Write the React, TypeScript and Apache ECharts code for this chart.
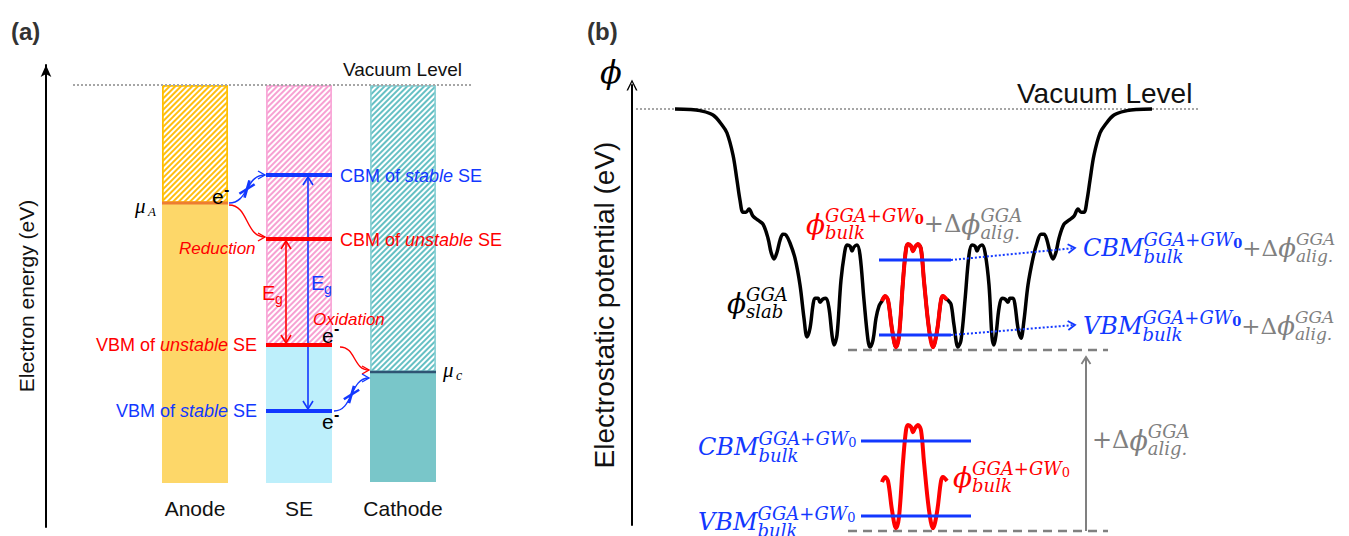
import React, { useEffect, useRef } from 'react';
import * as echarts from 'echarts';

// ---------------- Panel (a): energy-level diagram (eV, vacuum = 0) ----------------
const electrodes = ['Anode', 'SE', 'Cathode'];
const splitLevel = [-2.36, -5.2, -5.74]; // top of the filled (occupied) part of each column
const bandBottom = [-7.96, -7.96, -7.94];
const vacuumLevel = 0;

const levelNames = ['CBM of stable SE', 'CBM of unstable SE', 'VBM of unstable SE', 'VBM of stable SE', 'μA', 'μc'];
const levelColumn = [1, 1, 1, 1, 0, 2];
const levelEnergy = [-1.8, -3.08, -5.2, -6.52, -2.36, -5.74];

const gapNames = ['Eg unstable', 'Eg stable'];
const gapColumn = [1, 1];
const gapTop = [-3.08, -1.8];
const gapBottom = [-5.2, -6.52];

const transferNames = ['Reduction', 'blocked reduction', 'Oxidation', 'blocked oxidation'];
const transferFrom = [[0, -2.36], [0, -2.36], [1, -5.2], [1, -6.52]];
const transferTo = [[1, -3.08], [1, -1.8], [2, -5.74], [2, -5.74]];
const transferBlocked = [false, true, false, true];

// ---------------- Panel (b): electrostatic potential (position Å, potential eV) ----------------
const slabX = [4.3, 5.8, 6.8, 8.1, 9.0, 9.5, 10.1, 10.5, 10.8, 11.1, 11.4, 11.7, 12.1, 12.6, 13.1, 13.6, 13.9, 14.2, 14.5, 14.8,
  15.1, 15.4, 15.8, 16.3, 16.8, 17.2, 17.5, 17.8, 18.1, 18.3, 18.6, 18.8, 19.1, 19.4, 19.7, 20.0, 20.2, 20.5, 20.9, 21.3,
  21.5, 21.8, 22.0, 22.2, 22.5, 22.8, 23.2, 23.6, 23.8, 24.1, 24.4, 24.7, 25.0, 25.3, 25.6, 26.0, 26.4, 26.7, 27.1, 27.4,
  27.6, 27.9, 28.1, 28.3, 28.6, 28.9, 29.2, 29.7, 30.1, 30.5, 30.9, 31.1, 31.4, 31.6, 31.9, 32.2, 32.6, 32.9, 33.3, 33.7,
  34.0, 34.3, 34.5, 34.7, 35.0, 35.3, 35.7, 36.0, 36.2, 36.4, 36.7, 37.0, 37.3, 37.6, 37.8, 38.1, 38.3, 38.6, 38.9, 39.2,
  39.6, 40.1, 40.5, 40.9, 41.2, 41.5, 41.8, 42.1, 42.4, 42.7, 43.2, 43.7, 44.2, 44.6, 44.9, 45.2, 45.5, 45.8, 46.2, 46.8,
  47.3, 48.2, 49.5, 50.5, 52.0];
const slabV = [0, -0.01, -0.04, -0.15, -0.4, -0.6, -1.15, -1.78, -2.28, -2.58, -2.58, -2.5, -2.68, -2.78, -2.88, -3.23, -3.58, -3.75, -3.58, -3.28,
  -3.13, -3.15, -3.35, -3.73, -4.4, -5.23, -5.7, -5.48, -4.9, -4.73, -4.73, -4.83, -4.75, -4.73, -4.98, -5.65, -5.9, -5.65, -4.28, -3.53,
  -3.4, -3.43, -3.55, -3.45, -3.4, -3.65, -4.78, -5.78, -5.95, -5.78, -5.23, -4.93, -4.8, -4.68, -4.78, -5.5, -5.95, -5.68, -4.3, -3.5,
  -3.38, -3.43, -3.55, -3.45, -3.38, -3.5, -4.3, -5.5, -5.95, -5.55, -4.78, -4.68, -4.75, -4.78, -4.88, -5.4, -5.95, -5.78, -4.78, -3.65,
  -3.4, -3.43, -3.55, -3.45, -3.4, -3.58, -4.4, -5.7, -5.9, -5.65, -4.98, -4.73, -4.75, -4.83, -4.73, -4.73, -4.9, -5.48, -5.73, -5.28,
  -4.4, -3.73, -3.35, -3.13, -3.13, -3.28, -3.58, -3.75, -3.58, -3.23, -2.88, -2.78, -2.68, -2.5, -2.58, -2.58, -2.28, -1.78, -1.15, -0.6,
  -0.4, -0.15, -0.04, -0.01, 0];

const bulkX = [25.0, 25.3, 25.6, 26.0, 26.4, 26.7, 27.1, 27.4, 27.6, 27.9, 28.1, 28.3, 28.6, 28.9, 29.2, 29.7, 30.1, 30.5, 30.9, 31.1, 31.5];
const bulkV = [-9.33, -9.2, -9.3, -10.03, -10.48, -10.2, -8.83, -8.03, -7.9, -7.95, -8.08, -7.98, -7.9, -8.03, -8.83, -10.03, -10.48, -10.08, -9.3, -9.2, -9.3];

const alignShift = 4.525; // Δϕ_alig^GGA
const bulkCBM = -8.3;
const bulkVBM = -10.175;
const bulkRef = -10.55;
const bulkLevelSpan = [22.9, 33.9];
const alignedLevelSpan = [24.7, 31.9];
const refSpan = [21.6, 47.6];
const vacuumSpanB = [0.4, 56.6];
const shiftArrowX = 45.4;
const shiftArrowTop = -6.2;
const projTipX = 44.3;
const projTipV = [-3.475, -5.4];

// ---------------- styles ----------------
const FONT = "'Liberation Sans', Arial, sans-serif";
const MATH = "'DejaVu Serif', serif";
const TIMES = "'Liberation Serif', serif";
const RED = '#FF0000';
const BLUE = '#1238FF';
const GRAY = '#808080';
const BAR_W = 66;
const HATCH = ['#FFBE10', '#F7A0D2', '#66C0C4'];
const HATCH_BORDER = ['#FFC000', '#F9A8D8', '#8ED2D5'];
const SOLID = ['#FDD769', '#BDEFFB', '#79C6C9'];
const LEVEL_COLOR = [BLUE, RED, RED, BLUE, '#ED7D31', '#2F5473'];
const LEVEL_WIDTH = [4, 4, 4, 4, 3, 2.5];
const GAP_COLOR = [RED, BLUE];
const GAP_DX = [-13, 9];
const TRANSFER_COLOR = [RED, BLUE, RED, BLUE];
const TRANSFER_OFF = [
  { sx: 1, sy: 2, ey: -2 },
  { sx: 1, sy: 0, ey: 0 },
  { sx: 8, sy: 2, ey: -2 },
  { sx: 2, sy: 0, ey: 6 },
];
const TEXT_Z = 100;

let measureCtx: CanvasRenderingContext2D | null = null;
function textWidth(t: string, font: string) {
  if (!measureCtx) measureCtx = document.createElement('canvas').getContext('2d');
  if (!measureCtx) return t.length * 10;
  measureCtx.font = font;
  return measureCtx.measureText(t).width;
}

type P = { t: string; s: number; c: string; it?: boolean; b?: boolean; dy?: number; f?: string };
type Seg = P | { sup: P[]; sub: P[] };
const SUP = 9;
const SUB = 8;

function mathLabel(x0: number, y0: number, segs: Seg[]) {
  const out: any[] = [];
  let x = x0;
  const place = (p: P, xs: number, yc: number) => {
    const fam = p.f || MATH;
    const font = `${p.it ? 'italic ' : ''}${p.b ? 'bold ' : ''}${p.s}px ${fam}`;
    out.push({
      type: 'text', x: xs, y: yc + (p.dy || 0), silent: true, z: TEXT_Z,
      style: {
        text: p.t, fill: p.c, fontSize: p.s, fontFamily: fam,
        fontStyle: p.it ? 'italic' : 'normal', fontWeight: p.b ? 'bold' : 'normal',
        align: 'left', verticalAlign: 'middle',
      },
    });
    return textWidth(p.t, font);
  };
  for (const s of segs) {
    if ('sup' in s) {
      let a = x;
      for (const p of s.sup) a += place(p, a, y0 - SUP);
      let b = x;
      for (const p of s.sub) b += place(p, b, y0 + SUB);
      x = Math.max(a, b);
    } else {
      x += place(s, x, y0);
    }
  }
  return out;
}

function txt(x: number, y: number, text: string, o: any = {}) {
  return {
    type: 'text', x, y, silent: true, z: TEXT_Z,
    style: {
      text, fill: o.color || '#000', fontSize: o.size || 18, fontFamily: o.family || FONT,
      fontStyle: o.italic ? 'italic' : 'normal', fontWeight: o.bold ? 'bold' : 'normal',
      align: o.align || 'left', verticalAlign: 'middle', rich: o.rich,
    },
  };
}

function chevron(tip: number[], from: number[], L: number, H: number, style: any) {
  const dx = tip[0] - from[0];
  const dy = tip[1] - from[1];
  const d = Math.hypot(dx, dy) || 1;
  const ux = dx / d, uy = dy / d, nx = -uy, ny = ux;
  return {
    type: 'polyline',
    shape: { points: [[tip[0] - L * ux + H * nx, tip[1] - L * uy + H * ny], tip, [tip[0] - L * ux - H * nx, tip[1] - L * uy - H * ny]] },
    style: { fill: null, ...style },
  };
}

const hatchDecal = (color: string) => ({
  symbol: 'rect', symbolSize: 1, color, backgroundColor: '#ffffff',
  dashArrayX: [1, 0], dashArrayY: [1.2, 1.8], rotation: -Math.PI / 4,
});

function richLevel(color: string, size: number) {
  return { i: { fontStyle: 'italic', fill: color, fontSize: size, fontFamily: FONT } };
}

function buildOption() {
  const series: any[] = [];

  // hatched (empty) part of each column
  electrodes.forEach((name, i) => {
    series.push({
      type: 'bar', name: name + ' empty', xAxisIndex: 0, yAxisIndex: 0, stack: 'col', barWidth: BAR_W,
      data: electrodes.map((_, j) => (j === i ? splitLevel[i] : '-')),
      itemStyle: { color: '#ffffff', borderColor: HATCH_BORDER[i], borderWidth: 1.5, decal: hatchDecal(HATCH[i]) },
      silent: true,
    });
  });
  // filled part
  series.push({
    type: 'bar', name: 'filled', xAxisIndex: 0, yAxisIndex: 0, stack: 'col', barWidth: BAR_W, silent: true,
    data: electrodes.map((_, i) => ({ value: bandBottom[i] - splitLevel[i], itemStyle: { color: SOLID[i] } })),
  });

  // vacuum level (a)
  series.push({
    type: 'custom', name: 'vacuum a', xAxisIndex: 0, yAxisIndex: 0, silent: true, z: 3,
    data: [[0, vacuumLevel]],
    renderItem: (params: any, api: any) => {
      const a = api.coord([0, vacuumLevel]);
      const c = api.coord([2, vacuumLevel]);
      return { type: 'line', shape: { x1: a[0] - 122, y1: a[1], x2: c[0] + 69, y2: c[1] }, style: { stroke: '#A6A6A6', lineWidth: 2, lineDash: [2, 2] } };
    },
  });

  // band gap arrows
  series.push({
    type: 'custom', name: 'gaps', xAxisIndex: 0, yAxisIndex: 0, silent: true, z: 4,
    data: gapNames.map((_, i) => [gapColumn[i], gapTop[i], gapColumn[i], gapBottom[i]]),
    encode: { x: [0, 2], y: [1, 3] },
    renderItem: (params: any, api: any) => {
      const i = params.dataIndex;
      const t = api.coord([gapColumn[i], gapTop[i]]);
      const b = api.coord([gapColumn[i], gapBottom[i]]);
      const x = t[0] + GAP_DX[i];
      const st = { stroke: GAP_COLOR[i], lineWidth: 1.6 };
      const top = [x, t[1] + 2];
      const bot = [x, b[1] - 2];
      return {
        type: 'group', children: [
          { type: 'line', shape: { x1: x, y1: top[1], x2: x, y2: bot[1] }, style: st },
          chevron(top, bot, 8, 5, st),
          chevron(bot, top, 8, 5, st),
        ],
      };
    },
  });

  // level lines
  series.push({
    type: 'custom', name: 'levels', xAxisIndex: 0, yAxisIndex: 0, silent: true, z: 5,
    data: levelNames.map((_, i) => [levelColumn[i], levelEnergy[i]]),
    renderItem: (params: any, api: any) => {
      const i = params.dataIndex;
      const c = api.coord([levelColumn[i], levelEnergy[i]]);
      return { type: 'line', shape: { x1: c[0] - BAR_W / 2, y1: c[1], x2: c[0] + BAR_W / 2, y2: c[1] }, style: { stroke: LEVEL_COLOR[i], lineWidth: LEVEL_WIDTH[i] } };
    },
  });

  // electron transfer arrows
  series.push({
    type: 'custom', name: 'transfers', xAxisIndex: 0, yAxisIndex: 0, silent: true, z: 6,
    data: transferNames.map((_, i) => [transferFrom[i][0], transferFrom[i][1], transferTo[i][0], transferTo[i][1]]),
    encode: { x: [0, 2], y: [1, 3] },
    renderItem: (params: any, api: any) => {
      const i = params.dataIndex;
      const o = TRANSFER_OFF[i];
      const a = api.coord(transferFrom[i]);
      const b = api.coord(transferTo[i]);
      const p0 = [a[0] + BAR_W / 2 + o.sx, a[1] + o.sy];
      const p3 = [b[0] - BAR_W / 2 - 1, b[1] + o.ey];
      const dx = p3[0] - p0[0];
      const p1 = [p0[0] + dx * 0.55, p0[1]];
      const p2 = [p3[0] - dx * 0.55, p3[1]];
      const col = TRANSFER_COLOR[i];
      const st = { stroke: col, lineWidth: 1.4 };
      const children: any[] = [
        { type: 'bezierCurve', shape: { x1: p0[0], y1: p0[1], cpx1: p1[0], cpy1: p1[1], cpx2: p2[0], cpy2: p2[1], x2: p3[0], y2: p3[1] }, style: { ...st, fill: null } },
        chevron(p3, [p3[0] - 6, p3[1] + (p2[1] - p3[1]) * 0.15], 7, 4, st),
      ];
      if (transferBlocked[i]) {
        const mx = 0.125 * p0[0] + 0.375 * p1[0] + 0.375 * p2[0] + 0.125 * p3[0];
        const my = 0.125 * p0[1] + 0.375 * p1[1] + 0.375 * p2[1] + 0.125 * p3[1];
        const xs = { stroke: col, lineWidth: 2.6 };
        const a1 = -32 * Math.PI / 180, a2 = 106 * Math.PI / 180;
        children.push({ type: 'line', shape: { x1: mx - 9 * Math.cos(a1), y1: my - 9 * Math.sin(a1), x2: mx + 9 * Math.cos(a1), y2: my + 9 * Math.sin(a1) }, style: xs });
        children.push({ type: 'line', shape: { x1: mx - 9 * Math.cos(a2), y1: my - 9 * Math.sin(a2), x2: mx + 9 * Math.cos(a2), y2: my + 9 * Math.sin(a2) }, style: xs });
      }
      return { type: 'group', children };
    },
  });

  // ---------------- panel (b) ----------------
  const lineB = (name: string, data: any[], ls: any, z = 3) => ({
    type: 'line', name, xAxisIndex: 1, yAxisIndex: 1, data, symbol: 'none', clip: false, silent: true, z,
    lineStyle: ls,
  });
  series.push(lineB('vacuum b', [[vacuumSpanB[0], vacuumLevel], [vacuumSpanB[1], vacuumLevel]], { color: '#A6A6A6', width: 2, type: [2, 2] }, 2));
  series.push(lineB('bulk ref', [[refSpan[0], bulkRef], [refSpan[1], bulkRef]], { color: GRAY, width: 2.5, type: [9, 6] }, 2));
  series.push(lineB('aligned ref', [[refSpan[0], bulkRef + alignShift], [refSpan[1], bulkRef + alignShift]], { color: GRAY, width: 2.5, type: [9, 6] }, 2));
  series.push({ ...lineB('slab', slabX.map((x, i) => [x, slabV[i]]), { color: '#000', width: 3.5 }, 3), smooth: 0.35 });
  series.push({ ...lineB('bulk aligned', bulkX.map((x, i) => [x, bulkV[i] + alignShift]), { color: RED, width: 4 }, 4), smooth: 0.35 });
  series.push({ ...lineB('bulk', bulkX.map((x, i) => [x, bulkV[i]]), { color: RED, width: 4 }, 4), smooth: 0.35 });
  series.push(lineB('CBM bulk', [[bulkLevelSpan[0], bulkCBM], [bulkLevelSpan[1], bulkCBM]], { color: BLUE, width: 2.8 }, 5));
  series.push(lineB('VBM bulk', [[bulkLevelSpan[0], bulkVBM], [bulkLevelSpan[1], bulkVBM]], { color: BLUE, width: 2.8 }, 5));
  series.push(lineB('CBM aligned', [[alignedLevelSpan[0], bulkCBM + alignShift], [alignedLevelSpan[1], bulkCBM + alignShift]], { color: BLUE, width: 2.8 }, 5));
  series.push(lineB('VBM aligned', [[alignedLevelSpan[0], bulkVBM + alignShift], [alignedLevelSpan[1], bulkVBM + alignShift]], { color: BLUE, width: 2.8 }, 5));

  // arrows in (b)
  const arrowsB = [
    { from: [shiftArrowX, bulkRef], to: [shiftArrowX, shiftArrowTop], color: GRAY, dash: null, w: 2 },
    { from: [alignedLevelSpan[1], bulkCBM + alignShift], to: [projTipX, projTipV[0]], color: BLUE, dash: [2, 2], w: 2 },
    { from: [alignedLevelSpan[1], bulkVBM + alignShift], to: [projTipX, projTipV[1]], color: BLUE, dash: [2, 2], w: 2 },
  ];
  series.push({
    type: 'custom', name: 'arrows b', xAxisIndex: 1, yAxisIndex: 1, silent: true, z: 6,
    data: arrowsB.map(a => [a.from[0], a.from[1], a.to[0], a.to[1]]),
    encode: { x: [0, 2], y: [1, 3] },
    renderItem: (params: any, api: any) => {
      const a = arrowsB[params.dataIndex];
      const p0 = api.coord(a.from);
      const p1 = api.coord(a.to);
      return {
        type: 'group', children: [
          { type: 'line', shape: { x1: p0[0], y1: p0[1], x2: p1[0], y2: p1[1] }, style: { stroke: a.color, lineWidth: a.w, lineDash: a.dash || undefined } },
          chevron(p1, p0, 7, 4.5, { stroke: a.color, lineWidth: 1.8 }),
        ],
      };
    },
  });

  // ---------------- texts ----------------
  const G = GRAY;
  const sup0 = (c: string, bold: boolean): P[] => [{ t: 'GGA+GW', s: 18, c, it: true }, { t: '0', s: 13, c, b: bold, dy: 4 }];
  const graphics: any[] = [
    txt(11, 31, '(a)', { size: 24, bold: true, color: '#333' }),
    txt(587, 31, '(b)', { size: 24, bold: true, color: '#333' }),
    txt(343, 69, 'Vacuum Level', { size: 19, color: '#111' }),
    txt(1017, 93, 'Vacuum Level', { size: 28, color: '#111' }),
    txt(340, 176, 'CBM of {i|stable} SE', { size: 18, color: BLUE, rich: richLevel(BLUE, 18) }),
    txt(340, 240, 'CBM of {i|unstable} SE', { size: 18, color: RED, rich: richLevel(RED, 18) }),
    txt(257, 345, 'VBM of {i|unstable} SE', { size: 18, color: RED, align: 'right', rich: richLevel(RED, 18) }),
    txt(257, 411, 'VBM of {i|stable} SE', { size: 18, color: BLUE, align: 'right', rich: richLevel(BLUE, 18) }),
    txt(179, 248, 'Reduction', { size: 17, color: RED, italic: true }),
    txt(313, 319, 'Oxidation', { size: 17, color: RED, italic: true }),
    txt(262, 293, 'E', { size: 20, color: RED }),
    txt(275, 299, 'g', { size: 14, color: RED }),
    txt(311, 283, 'E', { size: 20, color: BLUE }),
    txt(324, 289, 'g', { size: 14, color: BLUE }),
    txt(212, 196, 'e', { size: 21 }),
    txt(224, 189, '-', { size: 16, bold: true }),
    txt(322, 335, 'e', { size: 21 }),
    txt(334, 328, '-', { size: 16, bold: true }),
    txt(322, 421, 'e', { size: 21 }),
    txt(334, 414, '-', { size: 16, bold: true }),
    txt(135, 206, 'μ', { size: 21, italic: true, family: TIMES }),
    txt(148, 211, 'A', { size: 13, italic: true, family: TIMES }),
    txt(443, 370, 'μ', { size: 21, italic: true, family: TIMES }),
    txt(456, 375, 'c', { size: 14, italic: true, family: TIMES }),
    txt(600, 72, 'ϕ', { size: 32, italic: true, family: MATH }),
    ...mathLabel(727, 303, [{ t: 'ϕ', s: 28, c: '#000', it: true }, { sup: [{ t: 'GGA', s: 18, c: '#000', it: true }], sub: [{ t: 'slab', s: 18, c: '#000', it: true }] }]),
    ...mathLabel(806, 224, [
      { t: 'ϕ', s: 28, c: RED, it: true }, { sup: sup0(RED, true), sub: [{ t: 'bulk', s: 18, c: RED, it: true }] },
      { t: '+Δ', s: 24, c: G }, { t: 'ϕ', s: 28, c: G, it: true }, { sup: [{ t: 'GGA', s: 18, c: G, it: true }], sub: [{ t: 'alig.', s: 18, c: G, it: true }] },
    ]),
    ...mathLabel(1083, 248, [
      { t: 'CBM', s: 24, c: BLUE, it: true }, { sup: sup0(BLUE, true), sub: [{ t: 'bulk', s: 18, c: BLUE, it: true }] },
      { t: '+Δ', s: 23, c: G }, { t: 'ϕ', s: 26, c: G, it: true }, { sup: [{ t: 'GGA', s: 17, c: G, it: true }], sub: [{ t: 'alig.', s: 17, c: G, it: true }] },
    ]),
    ...mathLabel(1083, 326, [
      { t: 'VBM', s: 24, c: BLUE, it: true }, { sup: sup0(BLUE, true), sub: [{ t: 'bulk', s: 18, c: BLUE, it: true }] },
      { t: '+Δ', s: 23, c: G }, { t: 'ϕ', s: 26, c: G, it: true }, { sup: [{ t: 'GGA', s: 17, c: G, it: true }], sub: [{ t: 'alig.', s: 17, c: G, it: true }] },
    ]),
    ...mathLabel(698, 447, [{ t: 'CBM', s: 24, c: BLUE, it: true }, { sup: sup0(BLUE, false), sub: [{ t: 'bulk', s: 18, c: BLUE, it: true }] }]),
    ...mathLabel(698, 522, [{ t: 'VBM', s: 24, c: BLUE, it: true }, { sup: sup0(BLUE, false), sub: [{ t: 'bulk', s: 18, c: BLUE, it: true }] }]),
    ...mathLabel(953, 477, [{ t: 'ϕ', s: 28, c: RED, it: true }, { sup: sup0(RED, false), sub: [{ t: 'bulk', s: 18, c: RED, it: true }] }]),
    ...mathLabel(1092, 440, [{ t: '+Δ', s: 24, c: G }, { t: 'ϕ', s: 27, c: G, it: true }, { sup: [{ t: 'GGA', s: 18, c: G, it: true }], sub: [{ t: 'alig.', s: 18, c: G, it: true }] }]),
  ];

  const hidden = { axisTick: { show: false }, axisLabel: { show: false }, splitLine: { show: false } };

  return {
    animation: false,
    backgroundColor: '#ffffff',
    textStyle: { fontFamily: FONT },
    grid: [
      { left: 143, top: 65, width: 312, height: 462 },
      { left: 632, top: 85, width: 600, height: 440 },
    ],
    xAxis: [
      {
        type: 'category', gridIndex: 0, data: electrodes,
        axisLine: { show: false }, axisTick: { show: false }, splitLine: { show: false },
        axisLabel: { fontSize: 21, color: '#111', margin: -19, verticalAlign: 'middle', fontFamily: FONT },
      },
      { type: 'value', gridIndex: 1, min: 0, max: 60, axisLine: { show: false }, ...hidden },
    ],
    yAxis: [
      {
        type: 'value', gridIndex: 0, min: -8.84, max: 0.4, offset: 97,
        axisLine: { show: true, onZero: false, symbol: ['none', 'arrow'], symbolSize: [8, 12], lineStyle: { color: '#000', width: 2 } },
        ...hidden,
        name: 'Electron energy (eV)', nameLocation: 'middle', nameRotate: 90, nameGap: 9,
        nameTextStyle: { fontSize: 21, color: '#111', fontFamily: FONT },
      },
      {
        type: 'value', gridIndex: 1, min: -10.4, max: 0.6,
        axisLine: {
          show: true, onZero: false, symbol: ['none', 'path://M0,10 L5,0 L10,10 L8.6,10 L5,2.6 L1.4,10 Z'], symbolSize: [11, 11],
          lineStyle: { color: '#000', width: 2 },
        },
        ...hidden,
        name: 'Electrostatic potential (eV)', nameLocation: 'middle', nameRotate: 90, nameGap: 14,
        nameTextStyle: { fontSize: 28, color: '#111', fontFamily: FONT },
      },
    ],
    series,
    graphic: graphics,
  };
}

export default function App() {
  const ref = useRef<HTMLDivElement>(null);
  useEffect(() => {
    if (!ref.current) return;
    const chart = echarts.init(ref.current, null, { renderer: 'svg' });
    chart.setOption(buildOption() as any);
    return () => chart.dispose();
  }, []);
  return <div ref={ref} style={{ position: 'absolute', left: 0, top: 0, width: 1349, height: 536, background: '#fff' }} />;
}
